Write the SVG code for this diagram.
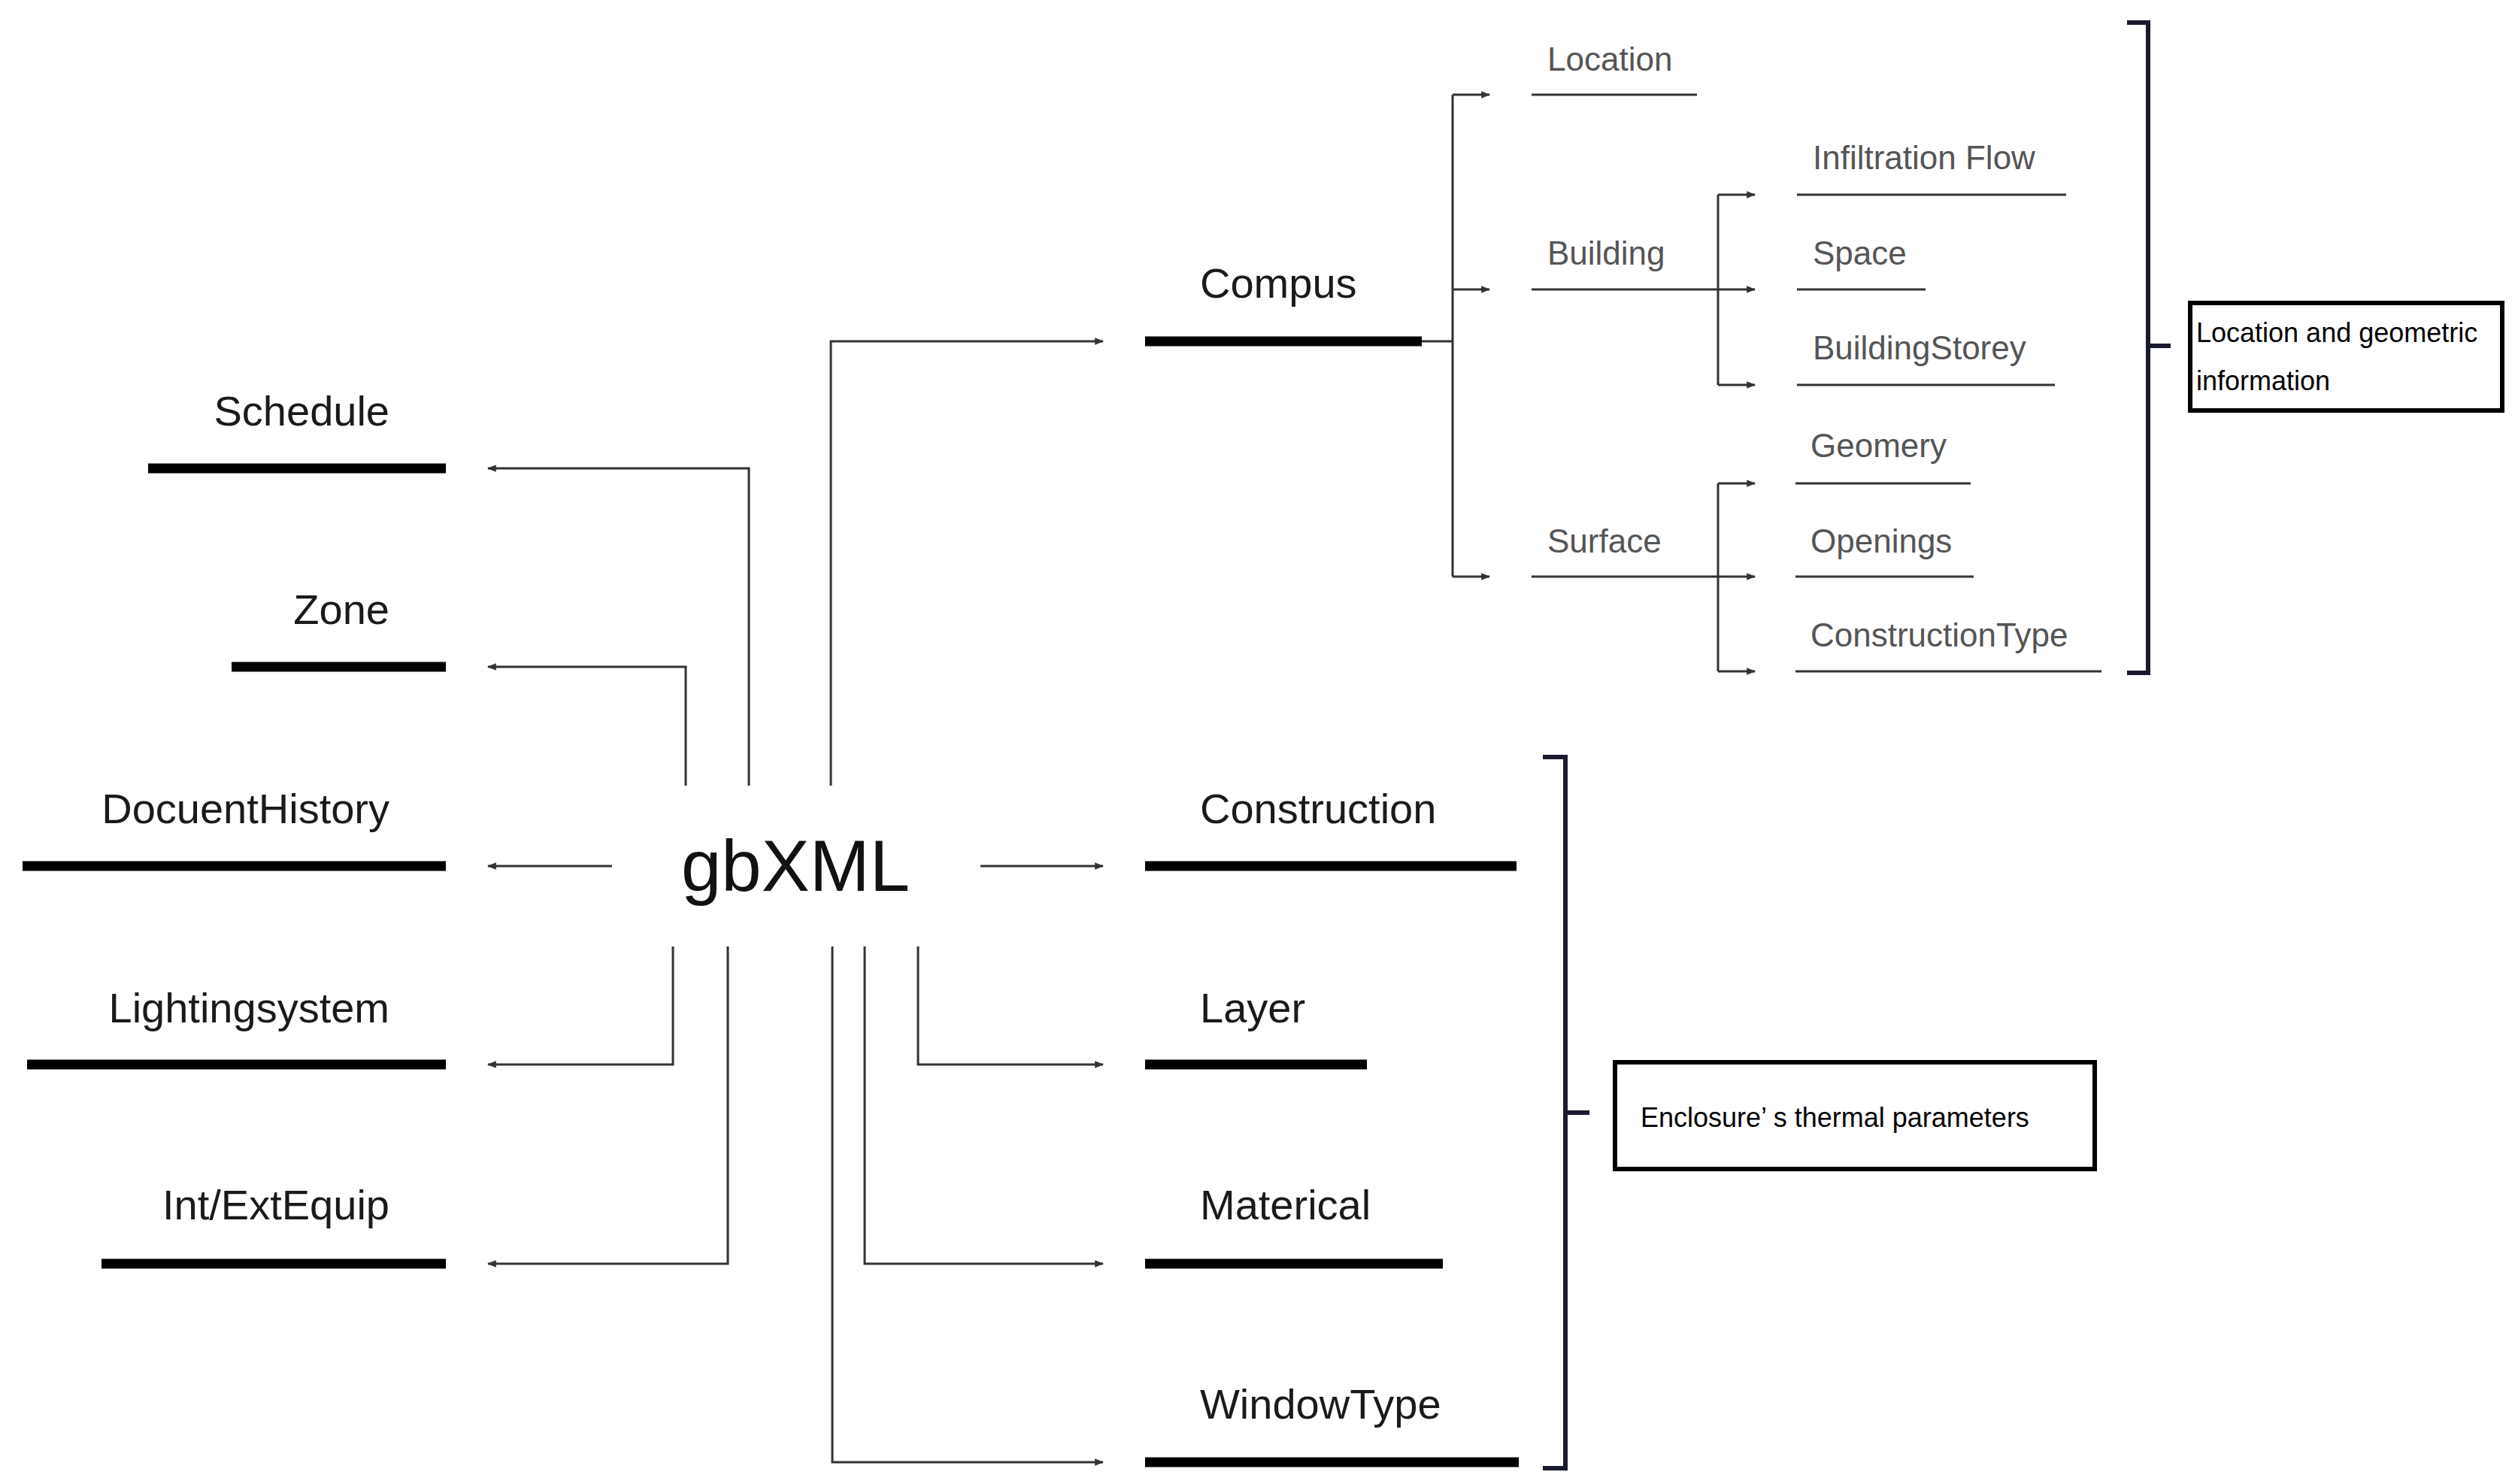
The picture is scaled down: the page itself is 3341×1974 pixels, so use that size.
<svg xmlns="http://www.w3.org/2000/svg" width="3341" height="1974" viewBox="0 0 3341 1974">
<style>
.bg{fill:#fff}
.lbl{font-family:"Liberation Sans",Arial,sans-serif;font-size:56px;fill:#1a1a1a}
.sub{font-family:"Liberation Sans",Arial,sans-serif;font-size:44px;fill:#555}
.note{font-family:"Liberation Sans",Arial,sans-serif;font-size:36px;fill:#000}
.bar{stroke:#000;stroke-width:13}
.thin{stroke:#333;stroke-width:3;fill:none}
.c{stroke:#333;stroke-width:3;fill:none;marker-end:url(#ah)}
.br{stroke:#1a1a2e;stroke-width:6;fill:none}
.box{fill:#fff;stroke:#000;stroke-width:6}
</style>
<defs>
<marker id="ah" viewBox="0 0 10 10" refX="9" refY="5" markerWidth="4" markerHeight="4" orient="auto"><path d="M0,1L10,5L0,9z" fill="#333"/></marker>
</defs>
<rect class="bg" width="3341" height="1974"/>
<g id="connectors">
<path class="c" d="M996,1045V623H649"/>
<path class="c" d="M912,1045V887H649"/>
<path class="c" d="M814,1152H649"/>
<path class="c" d="M895,1259V1416H649"/>
<path class="c" d="M968,1259V1681H649"/>
<path class="c" d="M1105,1045V454H1467"/>
<path class="c" d="M1304,1152H1467"/>
<path class="c" d="M1221,1259V1416H1467"/>
<path class="c" d="M1150,1259V1681H1467"/>
<path class="c" d="M1107,1259V1945H1467"/>
<path class="thin" d="M1891,454H1932"/>
<path class="c" d="M1932,126H1981"/>
<path class="c" d="M1932,385H1981"/>
<path class="c" d="M1932,767H1981"/>
<path class="thin" d="M1932,126V767"/>
<path class="c" d="M2037,385H2334"/>
<path class="c" d="M2285,259H2334"/>
<path class="c" d="M2285,512H2334"/>
<path class="thin" d="M2285,259V512"/>
<path class="c" d="M2037,767H2334"/>
<path class="c" d="M2285,643H2334"/>
<path class="c" d="M2285,893H2334"/>
<path class="thin" d="M2285,643V893"/>
</g>
<g id="gbxml"><text x="1058" y="1185" text-anchor="middle" font-family="Liberation Sans,Arial,sans-serif" font-size="96" fill="#111">gbXML</text></g>
<g id="schedule"><line class="bar" x1="197" y1="623" x2="593" y2="623"/><text class="lbl" x="518" y="566" text-anchor="end">Schedule</text></g>
<g id="zone"><line class="bar" x1="308" y1="887" x2="593" y2="887"/><text class="lbl" x="518" y="830" text-anchor="end">Zone</text></g>
<g id="docuenthistory"><line class="bar" x1="30" y1="1152" x2="593" y2="1152"/><text class="lbl" x="518" y="1095" text-anchor="end">DocuentHistory</text></g>
<g id="lightingsystem"><line class="bar" x1="36" y1="1416" x2="593" y2="1416"/><text class="lbl" x="518" y="1360" text-anchor="end">Lightingsystem</text></g>
<g id="intextequip"><line class="bar" x1="135" y1="1681" x2="593" y2="1681"/><text class="lbl" x="518" y="1622" text-anchor="end">Int/ExtEquip</text></g>
<g id="compus"><line class="bar" x1="1523" y1="454" x2="1891" y2="454"/><text class="lbl" x="1596" y="396">Compus</text></g>
<g id="construction"><line class="bar" x1="1523" y1="1152" x2="2017" y2="1152"/><text class="lbl" x="1596" y="1095">Construction</text></g>
<g id="layer"><line class="bar" x1="1523" y1="1416" x2="1818" y2="1416"/><text class="lbl" x="1596" y="1360">Layer</text></g>
<g id="materical"><line class="bar" x1="1523" y1="1681" x2="1919" y2="1681"/><text class="lbl" x="1596" y="1622">Materical</text></g>
<g id="windowtype"><line class="bar" x1="1523" y1="1945" x2="2020" y2="1945"/><text class="lbl" x="1596" y="1887">WindowType</text></g>
<g id="location"><line class="thin" x1="2037" y1="126" x2="2257" y2="126"/><text class="sub" x="2058" y="94">Location</text></g>
<g id="building"><text class="sub" x="2058" y="352">Building</text></g>
<g id="surface"><text class="sub" x="2058" y="735">Surface</text></g>
<g id="infiltration"><line class="thin" x1="2390" y1="259" x2="2748" y2="259"/><text class="sub" x="2411" y="225">Infiltration Flow</text></g>
<g id="space"><line class="thin" x1="2390" y1="385" x2="2561" y2="385"/><text class="sub" x="2411" y="352">Space</text></g>
<g id="buildingstorey"><line class="thin" x1="2390" y1="512" x2="2733" y2="512"/><text class="sub" x="2411" y="478">BuildingStorey</text></g>
<g id="geomery"><line class="thin" x1="2388" y1="643" x2="2621" y2="643"/><text class="sub" x="2408" y="608">Geomery</text></g>
<g id="openings"><line class="thin" x1="2388" y1="767" x2="2625" y2="767"/><text class="sub" x="2408" y="735">Openings</text></g>
<g id="constructiontype"><line class="thin" x1="2388" y1="893" x2="2795" y2="893"/><text class="sub" x="2408" y="860">ConstructionType</text></g>
<g id="bracket-location"><path class="br" d="M2829,30H2857V895H2829M2857,460H2887"/><rect class="box" x="2913" y="403" width="415" height="143"/><text class="note" x="2921" y="455">Location and geometric</text><text class="note" x="2921" y="519">information</text></g>
<g id="bracket-enclosure"><path class="br" d="M2052,1007H2082V1953H2052M2082,1480H2114"/><rect class="box" x="2148" y="1413" width="638" height="142"/><text class="note" x="2182" y="1499">Enclosure’ s thermal parameters</text></g>
</svg>
